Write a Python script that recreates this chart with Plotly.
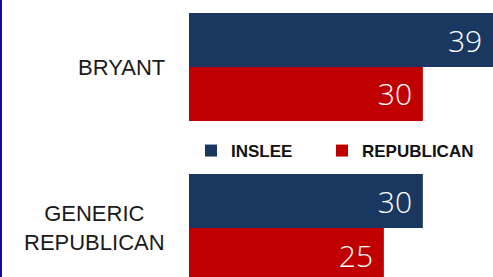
import plotly.graph_objects as go

categories = ["BRYANT", "GENERIC REPUBLICAN"]
tick_labels = ["BRYANT", "GENERIC<br>REPUBLICAN"]
series_names = ["INSLEE", "REPUBLICAN"]
inslee = [39, 30]
republican = [30, 25]

NAVY = "#1A3760"
RED = "#C00000"

W, H = 493, 277
PL = 189
PW = W - PL
fig = go.Figure()
for name, vals, col, lg in [(series_names[0], inslee, NAVY, "legend"),
                            (series_names[1], republican, RED, "legend2")]:
    fig.add_trace(go.Bar(
        y=categories, x=vals, orientation="h", name=name, legend=lg,
        marker=dict(color=col, line=dict(width=0)),
        texttemplate="%{x}\u00a0", textposition="inside", insidetextanchor="end",
        textfont=dict(family="Open Sans", size=30, color="white", weight=300),
        cliponaxis=False,
    ))

legend_font = dict(family="Liberation Sans Narrow, Arial Narrow, Liberation Sans",
                   size=17, color="#111111", weight="bold")


def leg(left_px):
    return dict(
        orientation="h", xref="paper", yref="paper",
        x=(left_px - PL) / PW, xanchor="left", y=1 - 151 / H, yanchor="middle",
        font=legend_font, bgcolor="rgba(0,0,0,0)",
    )


annotations = [
    dict(x=0, y=cat, xref="x", yref="y", text=lab, showarrow=False,
         xanchor="right", yanchor="middle", align="center", xshift=-22,
         font=dict(family="Liberation Sans, Arial", size=22, color="#1A1A1A"))
    for cat, lab in zip(categories, tick_labels)
]

fig.update_layout(
    width=W, height=H,
    margin=dict(l=PL, r=0, t=0, b=0, autoexpand=False),
    barmode="group", bargap=0.33, bargroupgap=0,
    plot_bgcolor="white", paper_bgcolor="white",
    xaxis=dict(range=[0, 39.0], visible=False, fixedrange=True),
    yaxis=dict(
        categoryorder="array", categoryarray=categories,
        range=[1.304, -0.416],
        showticklabels=False,
        showline=False, showgrid=False, zeroline=False, ticks="",
        automargin=False, fixedrange=True,
    ),
    legend=leg(191),
    legend2=leg(322),
    annotations=annotations,
    shapes=[dict(type="line", xref="paper", yref="paper", x0=(1 - PL) / PW, x1=(1 - PL) / PW, y0=0, y1=1,
                 line=dict(color="#1010A0", width=2))],
    showlegend=True,
)

fig.write_html("out.html", config={"displayModeBar": False},
               post_script="document.body.style.margin='0px';")
